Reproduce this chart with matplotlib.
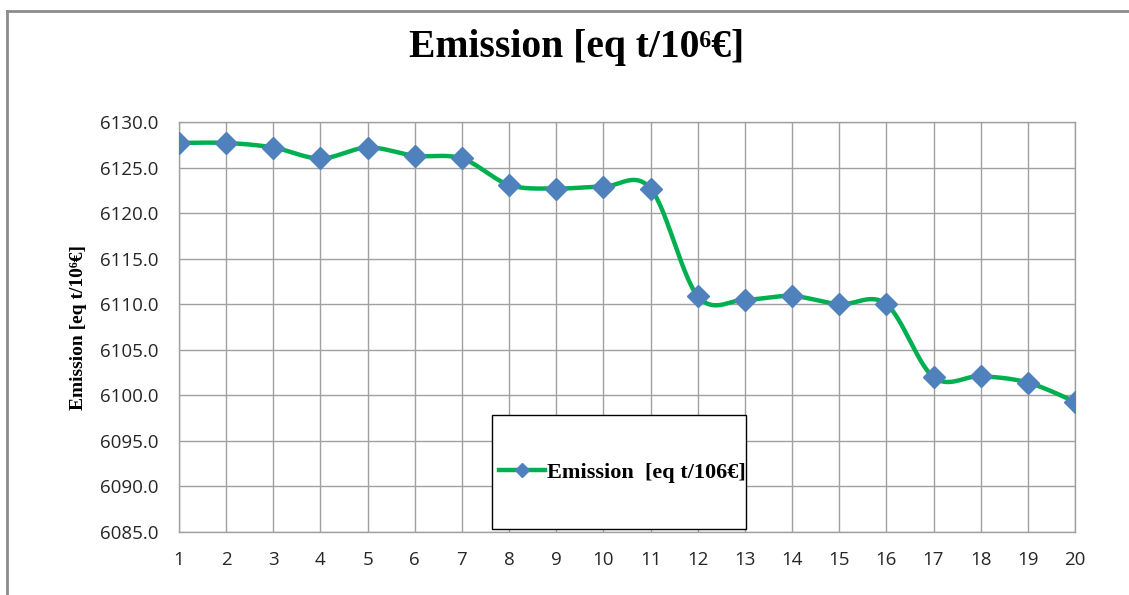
import numpy as np
import matplotlib
matplotlib.use("Agg")
import matplotlib.pyplot as plt
from matplotlib.lines import Line2D
from matplotlib.patches import Rectangle

# emission per period, eq t / 10^6 EUR
periods = np.arange(1, 21)
emission = [6127.7, 6127.7, 6127.2, 6126.0, 6127.2, 6126.3, 6126.0, 6123.1,
            6122.7, 6122.9, 6122.7, 6110.9, 6110.5, 6110.9, 6110.0, 6110.0,
            6102.0, 6102.1, 6101.4, 6099.3]
y_ticks = np.arange(6085.0, 6130.1, 5.0)

title = "Emission [eq t/10\u2076€]"
legend_label = "Emission  [eq t/106€]"

line_green = "#00B050"
marker_blue = "#4F81BD"
grid_grey = "#A0A0A0"
serif = ["Liberation Serif", "DejaVu Serif"]


def smooth(x, y, n=30):
    # Bezier segments with control points like a spreadsheet "smoothed line"
    x = np.asarray(x, float)
    y = np.asarray(y, float)
    px = np.concatenate([[x[0]], x, [x[-1]]])
    py = np.concatenate([[y[0]], y, [y[-1]]])
    xs, ys = [], []
    t = np.linspace(0, 1, n)
    for i in range(1, len(px) - 2):
        p0 = np.array([px[i], py[i]])
        p3 = np.array([px[i + 1], py[i + 1]])
        p1 = p0 + (np.array([px[i + 1], py[i + 1]]) - np.array([px[i - 1], py[i - 1]])) / 6
        p2 = p3 - (np.array([px[i + 2], py[i + 2]]) - np.array([px[i], py[i]])) / 6
        b = ((1 - t) ** 3)[:, None] * p0 + (3 * (1 - t) ** 2 * t)[:, None] * p1 \
            + (3 * (1 - t) * t ** 2)[:, None] * p2 + (t ** 3)[:, None] * p3
        xs.append(b[:, 0])
        ys.append(b[:, 1])
    return np.concatenate(xs), np.concatenate(ys)


W, H = 1129, 595
fig = plt.figure(figsize=(W / 100, H / 100), dpi=100)
fig.patch.set_facecolor("white")

# outer chart frame (left and top edges visible)
fig.add_artist(Line2D([7 / W, 7 / W], [0, 1 - 11 / H], transform=fig.transFigure,
                      color="#8C8C8C", lw=2))
fig.add_artist(Line2D([7 / W, 1], [1 - 11 / H, 1 - 11 / H], transform=fig.transFigure,
                      color="#8C8C8C", lw=2))

left, right, top, bottom = 179, 1075, 122, 532
ax = fig.add_axes([left / W, 1 - bottom / H, (right - left) / W, (bottom - top) / H])

sx, sy = smooth(periods, emission)
ax.plot(sx, sy, color=line_green, lw=3.2, zorder=3, solid_capstyle="round")
ax.plot(periods, emission, ls="none", marker="D", ms=11, color=marker_blue,
        zorder=4)

ax.set_xlim(1, 20)
ax.set_ylim(6085, 6130)
ax.set_xticks(periods)
ax.set_yticks(y_ticks)
ax.set_yticklabels([f"{v:.1f}" for v in y_ticks])
ax.grid(True, color=grid_grey, lw=1.0)
ax.set_axisbelow(True)
for s in ax.spines.values():
    s.set_color(grid_grey)
    s.set_linewidth(1.0)
ax.tick_params(length=0, labelsize=13.5, colors="#262626")
ax.tick_params(axis="x", pad=13.5)
ax.tick_params(axis="y", pad=15)
for lab in ax.get_xticklabels() + ax.get_yticklabels():
    lab.set_family("Open Sans")

ax.set_ylabel(title, family=serif, fontweight="bold", fontsize=14, labelpad=9)

fig.text(577 / W, 1 - 47 / H, title, family=serif, fontweight="bold",
         fontsize=28.5, ha="center", va="center")

# legend box
fig.add_artist(Rectangle((492 / W, 1 - 529 / H), (746 - 492) / W, (529 - 415) / H,
                         transform=fig.transFigure, facecolor="white",
                         edgecolor="black", lw=1.0, zorder=5))
handle = Line2D([], [], color=line_green, lw=3.2, marker="D", ms=7.5,
                markerfacecolor=marker_blue, markeredgecolor=marker_blue)
leg = fig.legend([handle], [legend_label], loc="center left",
                 bbox_to_anchor=(499 / W, 1 - 473 / H), frameon=False,
                 handlelength=2.05, handletextpad=0.12, borderaxespad=0,
                 borderpad=0,
                 prop={"family": serif, "weight": "bold", "size": 16})
leg.set_zorder(6)

fig.savefig("out.png", dpi=100, facecolor="white")
